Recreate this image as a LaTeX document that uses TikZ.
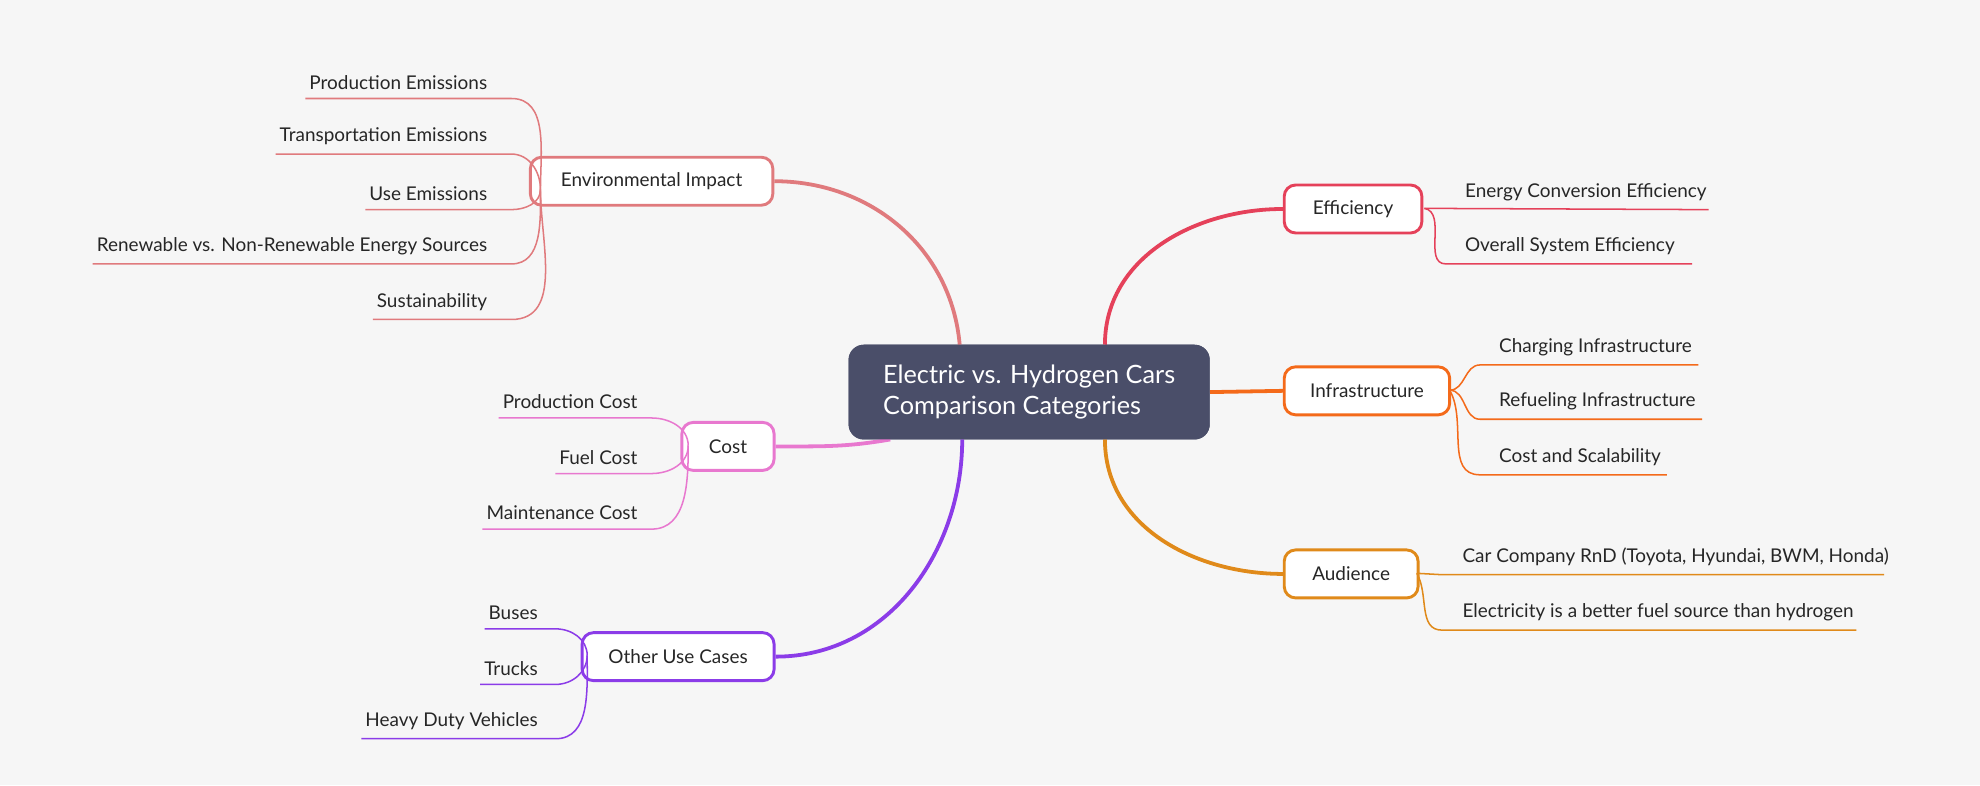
\documentclass[tikz,border=0pt]{standalone}
\usepackage{fontspec}
\setmainfont{Lato}
\definecolor{bg}{HTML}{F6F6F6}
\definecolor{cen}{HTML}{4A4E69}
\definecolor{cenv}{HTML}{E07A7D}
\definecolor{ccost}{HTML}{E878CF}
\definecolor{coth}{HTML}{8B3CE8}
\definecolor{ceff}{HTML}{E5415A}
\definecolor{cinf}{HTML}{F46A1A}
\definecolor{caud}{HTML}{E08A1A}
\begin{document}
\begin{tikzpicture}[x=1pt,y=-1pt,
  every node/.style={font=\fontsize{15}{17}\selectfont, text=black!85},
  branch/.style={draw=#1, line width=2.3pt, fill=white, rounded corners=9pt, minimum height=38pt, inner xsep=20pt},
  lleaf/.style={anchor=south east, inner sep=0pt, inner ysep=7pt, inner xsep=0pt},
  rleaf/.style={anchor=south west, inner sep=0pt, inner ysep=7pt, inner xsep=0pt},
  bline/.style={draw=#1, line width=3pt},
  leafline/.style={draw=#1, line width=1.2pt}]
\fill[bg] (0,0) rectangle (1568,622);
\useasboundingbox (0,0) rectangle (1568,622);

\node[fill=cen, rounded corners=12pt, minimum width=286pt, minimum height=75pt, text=white, font=\fontsize{20}{25}\selectfont, align=left] (c) at (815,310.5) {Electric vs. Hydrogen Cars\\Comparison Categories};

\node[branch=cenv, minimum width=192pt] (env) at (516,143.5) {Environmental Impact};
\node[branch=ccost, minimum width=73pt, inner xsep=5pt] (cost) at (576.5,353.5) {Cost};
\node[branch=coth, minimum width=152pt] (oth) at (537,520) {Other Use Cases};
\node[branch=ceff, minimum width=109pt, inner xsep=5pt] (eff) at (1071.5,165.5) {Efficiency};
\node[branch=cinf, minimum width=131pt] (inf) at (1082.5,309.5) {Infrastructure};
\node[branch=caud, minimum width=106pt, inner xsep=5pt] (aud) at (1070,454.5) {Audience};

\coordinate (c1) at (760,273); \coordinate (c2) at (705,348); \coordinate (c3) at (762,348);
\coordinate (c4) at (875,273); \coordinate (c5) at (875,348);
\draw[bline=cenv] (c1) to[out=95,in=0] (env.east);
\draw[bline=ccost] (c2) to[out=190,in=0] (cost.east);
\draw[bline=coth] (c3) to[out=-90,in=0] (oth.east);
\draw[bline=ceff] (c4) to[out=90,in=180] (eff.west);
\draw[bline=cinf] (c.east) -- (inf.west);
\draw[bline=caud] (c5) to[out=-90,in=180] (aud.west);
\node[fill=cen, rounded corners=12pt, minimum width=286pt, minimum height=75pt, text=white, font=\fontsize{20}{25}\selectfont, align=left] at (815,310.5) {Electric vs. Hydrogen Cars\\Comparison Categories};

% left leaves: env
\coordinate (et) at (428,150);
\foreach \n/\t/\y/\a in {e1/Production Emissions/78/90, e2/Transportation Emissions/122/90, e3/Use Emissions/166/-90, e4/Renewable vs. Non-Renewable Energy Sources/209/-90, e5/Sustainability/253/-90}{
  \node[lleaf] (\n) at (386,\y) {\t};
  \draw[leafline=cenv] (\n.south west)++(-3,0) -- (405,\y) to[out=0,in=\a] (et);
}
\coordinate (ct) at (545,353);
\foreach \n/\t/\y/\a in {k1/Production Cost/331/90, k2/Fuel Cost/375/-90, k3/Maintenance Cost/419/-90}{
  \node[lleaf] (\n) at (505,\y) {\t};
  \draw[leafline=ccost] (\n.south west)++(-3,0) -- (516,\y) to[out=0,in=\a] (ct);
}
\coordinate (ot) at (465,519);
\foreach \n/\t/\y/\a in {o1/Buses/498/90, o2/Trucks/542/-90, o3/Heavy Duty Vehicles/585/-90}{
  \node[lleaf] (\n) at (426,\y) {\t};
  \draw[leafline=coth] (\n.south west)++(-3,0) -- (440,\y) to[out=0,in=\a] (ot);
}
% right leaves
\coordinate (ft) at (1128,165);
\node[rleaf] (f1) at (1160,166) {Energy Conversion Efficiency};
\node[rleaf] (f2) at (1160,209) {Overall System Efficiency};
\draw[leafline=ceff] (ft) -- (1353,166);
\draw[leafline=ceff] (ft) to[out=-10,in=180] (1145,209) -- (1340,209);
\coordinate (it) at (1148,309);
\node[rleaf] (i1) at (1187,289) {Charging Infrastructure};
\node[rleaf] (i2) at (1187,332) {Refueling Infrastructure};
\node[rleaf] (i3) at (1187,376) {Cost and Scalability};
\draw[leafline=cinf] (it) to[out=0,in=180] (1172,289) -- (1345,289);
\draw[leafline=cinf] (it) to[out=0,in=180] (1172,332) -- (1348,332);
\draw[leafline=cinf] (it) to[out=-60,in=180] (1172,376) -- (1320,376);
\coordinate (at) at (1122,454);
\node[rleaf] (a1) at (1158,455) {Car Company RnD (Toyota, Hyundai, BWM, Honda)};
\node[rleaf] (a2) at (1158,499) {Electricity is a better fuel source than hydrogen};
\draw[leafline=caud] (at) -- (1140,455) -- (1492,455);
\draw[leafline=caud] (at) to[out=-60,in=180] (1142,499) -- (1470,499);
\end{tikzpicture}
\end{document}
